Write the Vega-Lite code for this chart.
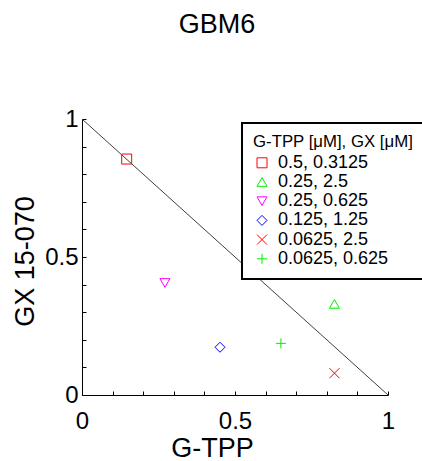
{
  "$schema": "https://vega.github.io/schema/vega-lite/v6.json",
  "width": 306,
  "height": 276,
  "autosize": "none",
  "padding": {"left": 82, "top": 119, "right": 34, "bottom": 66},
  "background": "white",
  "title": {"text": "GBM6", "font": "Liberation Sans", "fontSize": 27, "fontWeight": "normal", "color": "black", "anchor": "middle", "dx": -18, "offset": 68},
  "config": {"view": {"stroke": null}, "font": "Liberation Sans", "legend": {"strokeWidth": 2}, "axis": {"labelOverlap": false, "labelFlush": false}},
  "encoding": {
    "x": {"field": "x", "type": "quantitative", "scale": {"domain": [0, 1], "nice": false},
      "axis": {"title": "G-TPP", "values": [0, 0.1, 0.2, 0.3, 0.4, 0.5, 0.6, 0.7, 0.8, 0.9, 1],
        "labelExpr": "abs(datum.value) < 0.001 ? '0' : abs(datum.value - 0.5) < 0.001 ? '0.5' : abs(datum.value - 1) < 0.001 ? '1' : ''",
        "tickSize": -4, "tickColor": "black", "domainColor": "black", "grid": false,
        "labelFontSize": 24, "labelColor": "black", "labelFlush": false, "labelOverlap": false, "labelPadding": 18,
        "titleFontSize": 27, "titleFontWeight": "normal", "titleColor": "black",
        "titleX": 130, "titleY": 61, "titleBaseline": "alphabetic", "titleAlign": "center"}},
    "y": {"field": "y", "type": "quantitative", "scale": {"domain": [0, 1], "nice": false},
      "axis": {"title": "GX 15-070", "values": [0, 0.1, 0.2, 0.3, 0.4, 0.5, 0.6, 0.7, 0.8, 0.9, 1],
        "labelExpr": "abs(datum.value) < 0.001 ? '0' : abs(datum.value - 0.5) < 0.001 ? '0.5' : abs(datum.value - 1) < 0.001 ? '1' : ''",
        "tickSize": -4, "tickColor": "black", "domainColor": "black", "grid": false,
        "labelFontSize": 24, "labelColor": "black", "labelOverlap": false, "labelPadding": 8, "labelFlush": false,
        "titleFontSize": 27, "titleFontWeight": "normal", "titleColor": "black",
        "titleX": -49, "titleY": 142, "titleBaseline": "alphabetic", "titleAngle": -90, "titleAlign": "center"}}
  },
  "layer": [
    {
      "data": {"values": [{"x": 0, "y": 1}, {"x": 1, "y": 0}]},
      "mark": {"type": "line", "color": "#404040", "strokeWidth": 1}
    },
    {
      "data": {"values": [
        {"label": "0.5, 0.3125", "x": 0.146, "y": 0.855},
        {"label": "0.25, 2.5", "x": 0.825, "y": 0.33},
        {"label": "0.25, 0.625", "x": 0.271, "y": 0.406},
        {"label": "0.125, 1.25", "x": 0.451, "y": 0.173},
        {"label": "0.0625, 2.5", "x": 0.825, "y": 0.079},
        {"label": "0.0625, 0.625", "x": 0.65, "y": 0.187}
      ]},
      "mark": {"type": "point", "filled": false, "strokeWidth": 1, "size": 100, "opacity": 1},
      "encoding": {
        "color": {"field": "label", "type": "nominal",
          "scale": {"domain": ["0.5, 0.3125", "0.25, 2.5", "0.25, 0.625", "0.125, 1.25", "0.0625, 2.5", "0.0625, 0.625"],
            "range": ["#ff0000", "#00ee00", "#ff00ff", "#0000ff", "#ff0000", "#00ee00"]},
          "legend": {"title": "G-TPP [μM], GX [μM]", "orient": "none", "legendX": 160, "legendY": 4, "direction": "vertical",
            "strokeColor": "black", "fillColor": "white", "padding": 11,
            "titleFontSize": 16.8, "titleFontWeight": "normal", "titleColor": "black", "titlePadding": 3,
            "labelFontSize": 18, "labelColor": "black", "labelOffset": 7, "rowPadding": 1.2,
            "symbolSize": 100, "symbolStrokeWidth": 1}},
        "shape": {"field": "label", "type": "nominal",
          "scale": {"domain": ["0.5, 0.3125", "0.25, 2.5", "0.25, 0.625", "0.125, 1.25", "0.0625, 2.5", "0.0625, 0.625"],
            "range": ["square", "triangle-up", "triangle-down", "diamond", "M-1,-1L1,1M1,-1L-1,1", "M-1,0L1,0M0,-1L0,1"]}}
      }
    }
  ]
}
